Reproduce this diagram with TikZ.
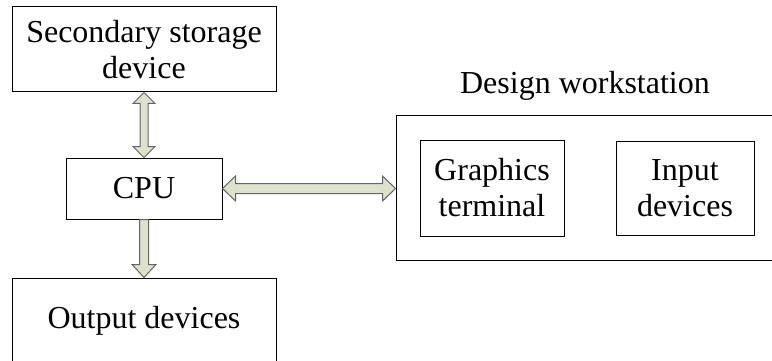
\documentclass[tikz,border=0pt]{standalone}
\usepackage{fontspec}
\setmainfont{Liberation Serif}
\usetikzlibrary{calc,positioning}
\definecolor{arrowfill}{RGB}{221,226,204}
\definecolor{arrowline}{RGB}{100,100,100}
\tikzstyle{box} = [
    rectangle,
    draw=black,
    line width=1pt,
    align=center,
    inner sep=0pt,
    font=\fontsize{32}{36}\selectfont
]
\tikzstyle{blockarrow} = [
    draw=arrowline,
    fill=arrowfill,
    line width=1pt,
    line join=miter
]
\begin{document}
\begin{tikzpicture}[x=1pt, y=-1pt]
    \useasboundingbox (0,0) rectangle (772,361);
    \clip (0,0) rectangle (772,361);
    % Host side
    \node[box, minimum width=264pt, minimum height=85pt] (sec) at (144,49.5) {Secondary storage\\device};
    \node[box, minimum width=156pt, minimum height=61pt] (cpu) at (144,188.5) {CPU};
    \node[box, minimum width=264pt, minimum height=85pt] (out) at (144,320.5) {Output devices};

    % Workstation
    \node[box, minimum width=386pt, minimum height=144pt] (ws) at (589,188) {};
    \node[font=\fontsize{32}{36}\selectfont] (wslabel) at (585,86) {Design workstation};
    \node[box, minimum width=144pt, minimum height=96pt] (gt) at (492,188) {Graphics\\terminal};
    \node[box, minimum width=138pt, minimum height=94pt] (inp) at (685,188) {Input\\devices};

    % Block arrows
    \draw[blockarrow] (sec.south) -- ++(11,11) -- ++(-7,0) -- ($(cpu.north)+(4,-11)$) -- ++(7,0)
        -- (cpu.north) -- ++(-11,-11) -- ++(7,0) -- ($(sec.south)+(-4,11)$) -- ++(-7,0) -- cycle;
    \draw[blockarrow] (cpu.east) -- ++(13,-12.5) -- ++(0,7.5) -- ($(ws.west|-cpu.east)+(-13,-5)$) -- ++(0,-7.5)
        -- (ws.west|-cpu.east) -- ++(-13,12.5) -- ++(0,-7.5) -- ($(cpu.east)+(13,5)$) -- ++(0,7.5) -- cycle;
    \draw[blockarrow] ($(cpu.south)+(-4.5,0)$) -- ($(out.north)+(-4.5,-13)$) -- ++(-7.5,0)
        -- (out.north) -- ++(12,-13) -- ++(-7.5,0) -- ($(cpu.south)+(4.5,0)$) -- cycle;
\end{tikzpicture}
\end{document}
